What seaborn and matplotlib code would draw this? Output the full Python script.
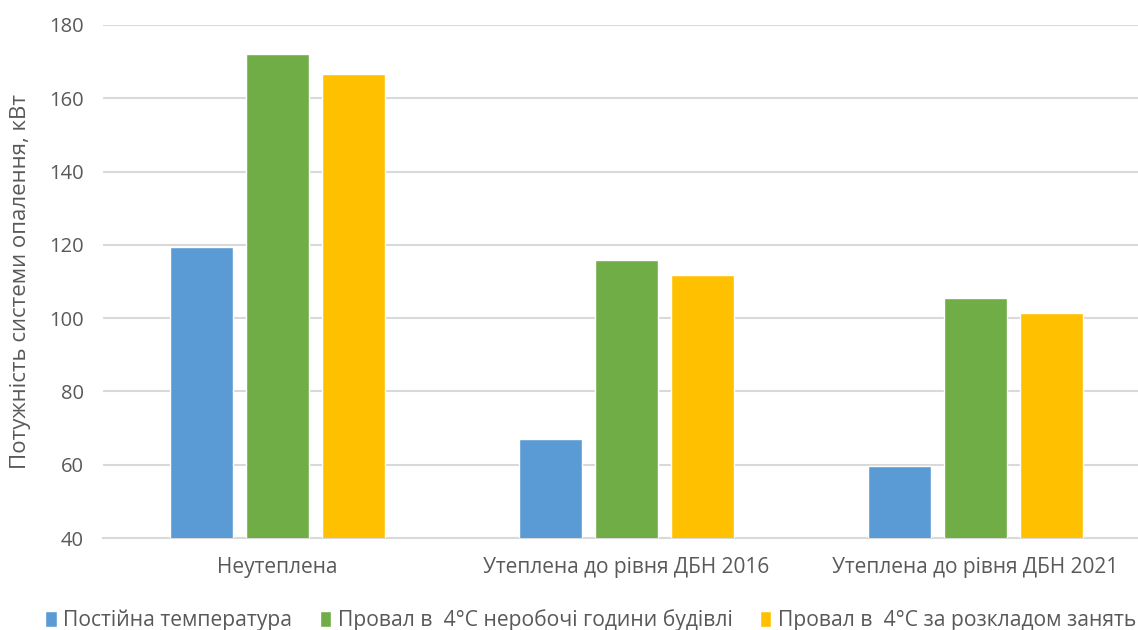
import matplotlib
matplotlib.use("Agg")
import matplotlib.pyplot as plt
import seaborn as sns
import pandas as pd
from matplotlib.patches import Patch

categories = ["Неутеплена", "Утеплена до рівня ДБН 2016", "Утеплена до рівня ДБН 2021"]
series_names = ["Постійна температура",
                "Провал в  4°C неробочі години будівлі",
                "Провал в  4°C за розкладом занять"]
const_temp = [119.4, 67.0, 59.6]
dip_nonwork = [172.1, 115.9, 105.5]
dip_schedule = [166.6, 111.8, 101.4]
colors = ["#5B9BD5", "#70AD47", "#FFC000"]

rows = []
for vals, name in zip([const_temp, dip_nonwork, dip_schedule], series_names):
    for c, v in zip(categories, vals):
        rows.append({"cat": c, "series": name, "val": v})
df = pd.DataFrame(rows)

sns.set_theme(style="white")
plt.rcParams['font.family'] = ['Open Sans', 'DejaVu Sans']

fig = plt.figure(figsize=(11.38, 6.30), dpi=100)
ax = fig.add_axes([103/1138, 1-538/630, (1150-103)/1138, (538-25)/630])

sns.barplot(data=df, x="cat", y="val", hue="series", order=categories,
            hue_order=series_names, palette=colors, width=0.655, gap=0.18,
            saturation=1, ax=ax, legend=False, zorder=3)

ax.set_ylim(40, 180)
ax.set_yticks(range(40, 181, 20))
ax.set_xlim(-0.5, 2.5)
ax.yaxis.grid(True, color="#D9D9D9", linewidth=1.5, zorder=0)
ax.set_axisbelow(True)
for s in ["top", "right", "left"]:
    ax.spines[s].set_visible(False)
ax.spines["bottom"].set_color("#D9D9D9")
ax.spines["bottom"].set_linewidth(1.5)
ax.tick_params(axis="y", length=0, colors="#595959", labelsize=14.5, pad=14)
ax.tick_params(axis="x", length=0, colors="#595959", labelsize=15, pad=14)
ax.set_xlabel("")
ax.set_ylabel("Потужність системи опалення, кВт", color="#595959", fontsize=16, labelpad=13)

handles = [Patch(facecolor=c, label=n) for c, n in zip(colors, series_names)]
fig.legend(handles=handles, loc="center", bbox_to_anchor=(0.519, 1-620/630), ncol=3,
           frameon=False, fontsize=15.2, handlelength=0.55, handleheight=0.8,
           handletextpad=0.3, columnspacing=1.3, labelcolor="#595959")

fig.savefig("out.png", dpi=100)
